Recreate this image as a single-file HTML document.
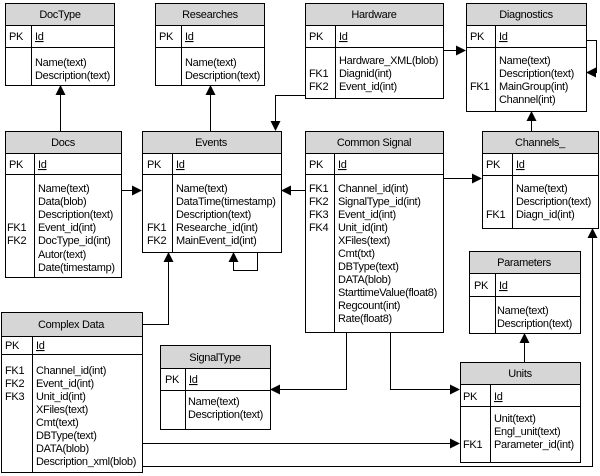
<!DOCTYPE html>
<html><head><meta charset="utf-8"><style>
html,body{margin:0;padding:0;background:#fff;width:600px;height:476px;overflow:hidden}
svg text{font-family:"Liberation Sans",Arial,sans-serif;font-size:11px;fill:#000;letter-spacing:-0.3px}
.h{fill:#d6d6d6;stroke:#000;stroke-width:1}
.b{fill:#fff;stroke:#000;stroke-width:1}
.l{stroke:#000;stroke-width:1;fill:none}
.c{text-anchor:middle}
</style></head><body>
<svg width="600" height="476" viewBox="0 0 600 476" xmlns="http://www.w3.org/2000/svg">
<defs><marker id="a" markerWidth="10" markerHeight="10" refX="9" refY="5" orient="auto" markerUnits="userSpaceOnUse"><path d="M0,0 L10,5 L0,10 z" fill="#000"/></marker></defs>

<!-- connectors -->
<g class="l">
<path d="M60.5,131 V86" marker-end="url(#a)"/>
<path d="M210.5,131 V86" marker-end="url(#a)"/>
<path d="M305,95.5 H275.5 V130" marker-end="url(#a)"/>
<path d="M443,50.5 H465" marker-end="url(#a)"/>
<path d="M586,40.5 H596.5 V72.5 H587" marker-end="url(#a)"/>
<path d="M531.5,131 V112" marker-end="url(#a)"/>
<path d="M121,190.5 H141" marker-end="url(#a)"/>
<path d="M305,190.5 H282" marker-end="url(#a)"/>
<path d="M257.5,252 V270.5 H233.5 V253" marker-end="url(#a)"/>
<path d="M443,178.5 H481" marker-end="url(#a)"/>
<path d="M142,324.5 H168.5 V253" marker-end="url(#a)"/>
<path d="M346.5,332 V389.5 H271" marker-end="url(#a)"/>
<path d="M390.5,332 V389.5 H459" marker-end="url(#a)"/>
<path d="M142,443.5 H459" marker-end="url(#a)"/>
<path d="M142,466.5 H592.5 V229" marker-end="url(#a)"/>
<path d="M524.5,362 V334" marker-end="url(#a)"/>
</g>

<!-- DocType -->
<rect class="b" x="5.5" y="3.5" width="109" height="82"/><rect class="h" x="5.5" y="3.5" width="109" height="22"/>
<path class="l" d="M5,47.5 H114 M31.5,25 V85"/>
<text class="c" x="60" y="18">DocType</text><text x="9" y="40">PK</text><text x="35" y="40" text-decoration="underline">Id</text>
<text x="35" y="66">Name(text)</text><text x="35" y="79">Description(text)</text>

<!-- Researches -->
<rect class="b" x="155.5" y="3.5" width="109" height="82"/><rect class="h" x="155.5" y="3.5" width="109" height="22"/>
<path class="l" d="M155,47.5 H264 M181.5,25 V85"/>
<text class="c" x="210" y="18">Researches</text><text x="159" y="40">PK</text><text x="185" y="40" text-decoration="underline">Id</text>
<text x="185" y="66">Name(text)</text><text x="185" y="79">Description(text)</text>

<!-- Hardware -->
<rect class="b" x="305.5" y="3.5" width="138" height="95"/><rect class="h" x="305.5" y="3.5" width="138" height="22"/>
<path class="l" d="M305,47.5 H443 M335.5,25 V98"/>
<text class="c" x="374" y="18">Hardware</text><text x="309" y="40">PK</text><text x="339" y="40" text-decoration="underline">Id</text>
<text x="339" y="64">Hardware_XML(blob)</text><text x="309" y="77">FK1</text><text x="339" y="77">Diagnid(int)</text><text x="309" y="90">FK2</text><text x="339" y="90">Event_id(int)</text>

<!-- Diagnostics -->
<rect class="b" x="466.5" y="3.5" width="120" height="108"/><rect class="h" x="466.5" y="3.5" width="120" height="22"/>
<path class="l" d="M466,47.5 H586 M495.5,25 V111"/>
<text class="c" x="526" y="18">Diagnostics</text><text x="470" y="40">PK</text><text x="499" y="40" text-decoration="underline">Id</text>
<text x="499" y="64">Name(text)</text><text x="499" y="77">Description(text)</text><text x="470" y="90">FK1</text><text x="499" y="90">MainGroup(int)</text><text x="499" y="103">Channel(int)</text>

<!-- Docs -->
<rect class="b" x="5.5" y="131.5" width="116" height="146"/><rect class="h" x="5.5" y="131.5" width="116" height="22"/>
<path class="l" d="M5,174.5 H121 M34.5,153 V277"/>
<text class="c" x="63" y="146">Docs</text><text x="9" y="168">PK</text><text x="38" y="168" text-decoration="underline">Id</text>
<text x="38" y="192">Name(text)</text><text x="38" y="205">Data(blob)</text><text x="38" y="218">Description(text)</text>
<text x="7" y="231">FK1</text><text x="38" y="231">Event_id(int)</text><text x="7" y="244">FK2</text><text x="38" y="244">DocType_id(int)</text>
<text x="38" y="258">Autor(text)</text><text x="38" y="271">Date(timestamp)</text>

<!-- Events -->
<rect class="b" x="142.5" y="131.5" width="139" height="121"/><rect class="h" x="142.5" y="131.5" width="139" height="22"/>
<path class="l" d="M142,174.5 H281 M172.5,153 V252"/>
<text class="c" x="211" y="146">Events</text><text x="147" y="168">PK</text><text x="176" y="168" text-decoration="underline">Id</text>
<text x="176" y="192">Name(text)</text><text x="176" y="205">DataTime(timestamp)</text><text x="176" y="218">Description(text)</text>
<text x="147" y="231">FK1</text><text x="176" y="231">Researche_id(int)</text><text x="147" y="244">FK2</text><text x="176" y="244">MainEvent_id(int)</text>

<!-- Common Signal -->
<rect class="b" x="305.5" y="131.5" width="138" height="201"/><rect class="h" x="305.5" y="131.5" width="138" height="22"/>
<path class="l" d="M305,174.5 H443 M334.5,153 V332"/>
<text class="c" x="374" y="146">Common Signal</text><text x="309" y="168">PK</text><text x="338" y="168" text-decoration="underline">Id</text>
<text x="309" y="192">FK1</text><text x="338" y="192">Channel_id(int)</text>
<text x="309" y="205">FK2</text><text x="338" y="205">SignalType_id(int)</text>
<text x="309" y="218">FK3</text><text x="338" y="218">Event_id(int)</text>
<text x="309" y="231">FK4</text><text x="338" y="231">Unit_id(int)</text>
<text x="338" y="244">XFiles(text)</text><text x="338" y="257">Cmt(txt)</text><text x="338" y="270">DBType(text)</text>
<text x="338" y="283">DATA(blob)</text><text x="338" y="296">StarttimeValue(float8)</text><text x="338" y="309">Regcount(int)</text><text x="338" y="322">Rate(float8)</text>

<!-- Channels_ -->
<rect class="b" x="482.5" y="131.5" width="116" height="97"/><rect class="h" x="482.5" y="131.5" width="116" height="22"/>
<path class="l" d="M482,175.5 H598 M512.5,153 V228"/>
<text class="c" x="540" y="146">Channels_</text><text x="486" y="168">PK</text><text x="516" y="168" text-decoration="underline">Id</text>
<text x="516" y="192">Name(text)</text><text x="516" y="205">Description(text)</text><text x="486" y="218">FK1</text><text x="516" y="218">Diagn_id(int)</text>

<!-- Parameters -->
<rect class="b" x="469.5" y="251.5" width="111" height="82"/><rect class="h" x="469.5" y="251.5" width="111" height="22"/>
<path class="l" d="M469,296.5 H580 M495.5,273 V333"/>
<text class="c" x="524" y="266">Parameters</text><text x="474" y="289">PK</text><text x="499" y="289" text-decoration="underline">Id</text>
<text x="497" y="314">Name(text)</text><text x="497" y="327">Description(text)</text>

<!-- Units -->
<rect class="b" x="460.5" y="362.5" width="120" height="100"/><rect class="h" x="460.5" y="362.5" width="120" height="22"/>
<path class="l" d="M460,406.5 H580 M490.5,384 V462"/>
<text class="c" x="520" y="377">Units</text><text x="463" y="400">PK</text><text x="494" y="400" text-decoration="underline">Id</text>
<text x="494" y="422">Unit(text)</text><text x="494" y="435">Engl_unit(text)</text><text x="463" y="448">FK1</text><text x="494" y="448">Parameter_id(int)</text>

<!-- SignalType -->
<rect class="b" x="160.5" y="345.5" width="110" height="84"/><rect class="h" x="160.5" y="345.5" width="110" height="23"/>
<path class="l" d="M160,390.5 H270 M185.5,368 V429"/>
<text class="c" x="215" y="361">SignalType</text><text x="165" y="383">PK</text><text x="189" y="383" text-decoration="underline">Id</text>
<text x="188" y="405">Name(text)</text><text x="188" y="418">Description(text)</text>

<!-- Complex Data -->
<rect class="b" x="1.5" y="312.5" width="141" height="160"/><rect class="h" x="1.5" y="312.5" width="141" height="24"/>
<path class="l" d="M1,354.5 H142 M32.5,336 V472"/>
<text class="c" x="71" y="328">Complex Data</text><text x="5" y="349">PK</text><text x="36" y="349" text-decoration="underline">Id</text>
<text x="5" y="374">FK1</text><text x="36" y="374">Channel_id(int)</text>
<text x="5" y="387">FK2</text><text x="36" y="387">Event_id(int)</text>
<text x="5" y="400">FK3</text><text x="36" y="400">Unit_id(int)</text>
<text x="36" y="413">XFiles(text)</text><text x="36" y="426">Cmt(text)</text><text x="36" y="439">DBType(text)</text>
<text x="36" y="452">DATA(blob)</text><text x="36" y="465">Description_xml(blob)</text>
</svg>
</body></html>
